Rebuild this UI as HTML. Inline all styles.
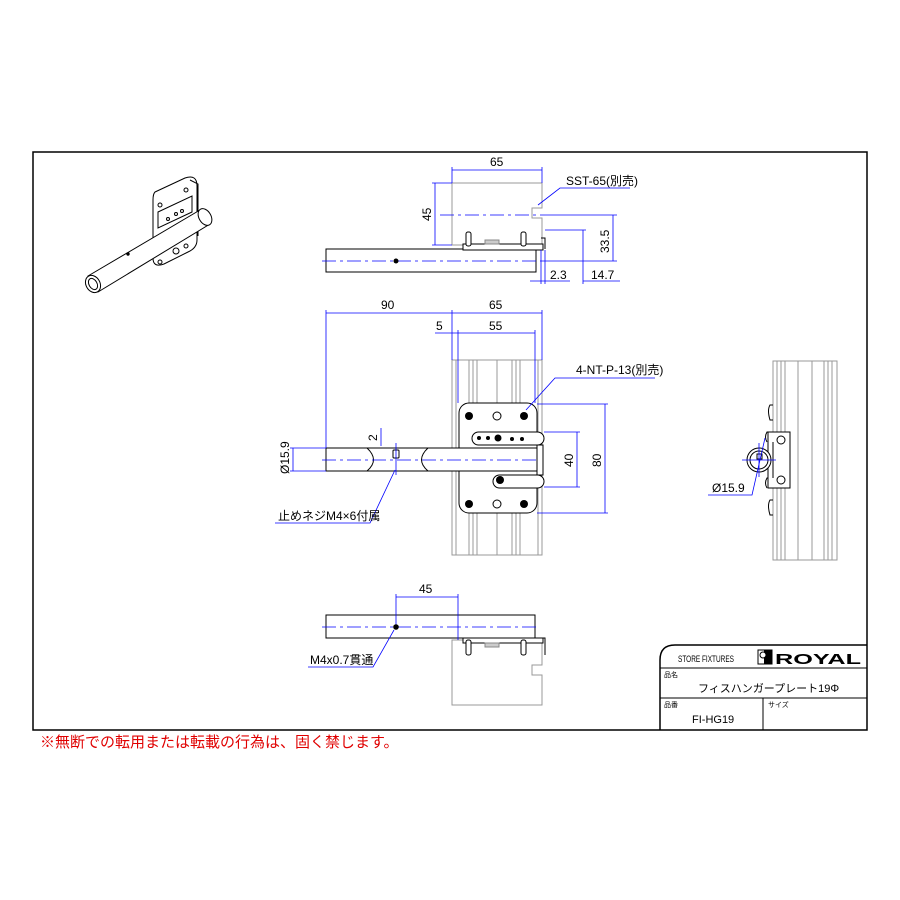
<!DOCTYPE html>
<html><head><meta charset="utf-8"><style>
html,body{margin:0;padding:0;background:#fff;}
svg{display:block;}
text{font-family:"Liberation Sans","Noto Sans CJK JP",sans-serif;}
</style></head><body>
<svg width="900" height="900" viewBox="0 0 900 900" xmlns="http://www.w3.org/2000/svg">
<rect x="0" y="0" width="900" height="900" fill="#fff"/>
<rect x="33" y="152" width="834" height="578" fill="none" stroke="#000" stroke-width="1.5"/>
<path d="M660 730 V660 Q660 645 675 645 H867" fill="none" stroke="#000" stroke-width="1.5"/>
<line x1="660" y1="668" x2="867" y2="668" stroke="#000" stroke-width="1"/>
<line x1="660" y1="698" x2="867" y2="698" stroke="#000" stroke-width="1"/>
<line x1="763" y1="698" x2="763" y2="730" stroke="#000" stroke-width="1"/>
<text x="678" y="662" font-size="9" textLength="56" lengthAdjust="spacingAndGlyphs">STORE FIXTURES</text>
<rect x="758" y="650" width="14" height="14" fill="#fff" stroke="#000"/>
<rect x="764" y="650" width="8" height="14" fill="#000"/>
<circle cx="763" cy="655" r="3" fill="#fff" stroke="#000"/>
<text x="775" y="664" font-size="15" font-weight="bold" textLength="86" lengthAdjust="spacingAndGlyphs">ROYAL</text>
<text x="664" y="677" font-size="7">品名</text>
<text x="698" y="692" font-size="11">フィスハンガープレート19Φ</text>
<text x="664" y="707" font-size="7">品番</text>
<text x="768" y="707" font-size="7">サイズ</text>
<text x="692" y="723" font-size="11">FI-HG19</text>
<text x="40" y="747" font-size="15" fill="#e00000">※無断での転用または転載の行為は、固く禁じます。</text>

<g fill="none" stroke-width="1">
<g stroke="#000">
<path d="M155 192 L185 178 Q197 174 197 186 L197 240 Q197 248 188 252 L164 264 Q153 268 153 258 L153 200 Q153 194 155 192 Z" fill="#fff"/>
<path d="M158 212 L192 196 L192 212 L158 228 Z"/>
<path d="M190 180 L198 184 L198 236"/>
<path d="M88 276 L200 210 L210 224 L98 292 Z" fill="#fff"/>
<ellipse cx="93" cy="284" rx="7" ry="9" transform="rotate(-30 93 284)" fill="#fff"/>
<ellipse cx="93" cy="284" rx="4" ry="6" transform="rotate(-30 93 284)"/>
<ellipse cx="205" cy="217" rx="6" ry="9" transform="rotate(-30 205 217)" fill="#fff"/>
<circle cx="160" cy="205" r="2"/><circle cx="186" cy="190" r="2"/><circle cx="160" cy="262" r="2"/><circle cx="186" cy="246" r="2"/>
<circle cx="168" cy="219" r="1.5"/><circle cx="176" cy="214" r="1.5"/><circle cx="182" cy="211" r="1.5"/>
<circle cx="176" cy="251" r="3"/>
<circle cx="128" cy="254" r="1.2" fill="#000"/>
</g>

<g stroke="#999">
<path d="M452 183 H542 V208 H532 V218 H542 V245 H452 Z"/>
</g>
<g stroke="#000">
<rect x="326" y="249" width="210" height="23" fill="#fff"/>
<rect x="463" y="244" width="80" height="6" fill="#fff"/>
<rect x="466" y="232" width="5" height="14" rx="2" fill="#fff"/>
<rect x="521" y="232" width="5" height="14" rx="2" fill="#fff"/>
<rect x="485" y="240" width="14" height="4" fill="#ccc" stroke="#888"/>
<path d="M541 238 H545 V249"/>
</g>
<g stroke="#0000ff" stroke-width="0.8">
<line x1="322" y1="261" x2="540" y2="261" stroke-dasharray="14 4 3 4"/>
<line x1="440" y1="215" x2="545" y2="215" stroke-dasharray="14 4 3 4"/>
<line x1="452" y1="167" x2="452" y2="183"/><line x1="542" y1="167" x2="542" y2="183"/>
<line x1="452" y1="170" x2="542" y2="170"/>
<line x1="432" y1="183" x2="452" y2="183"/><line x1="432" y1="245" x2="452" y2="245"/>
<line x1="435" y1="183" x2="435" y2="245"/>
<line x1="545" y1="215" x2="617" y2="215"/><line x1="540" y1="261" x2="617" y2="261"/>
<line x1="613" y1="215" x2="613" y2="261"/>
<line x1="545" y1="230" x2="586" y2="230"/><line x1="583" y1="230" x2="583" y2="284"/>
<line x1="583" y1="281" x2="620" y2="281"/>
<line x1="541" y1="250" x2="541" y2="284"/><line x1="545" y1="250" x2="545" y2="284"/>
<line x1="530" y1="281" x2="570" y2="281"/>
<polyline points="538,205 560,188 630,188"/>
</g>
<circle cx="396" cy="261" r="2.5" fill="#000" stroke="none"/>

<g stroke="#999">
<rect x="452" y="360" width="90" height="195"/>
<line x1="456" y1="360" x2="456" y2="555"/>
<line x1="469" y1="360" x2="469" y2="555"/><line x1="473" y1="360" x2="473" y2="555"/><line x1="477" y1="360" x2="477" y2="555"/>
<line x1="497" y1="360" x2="497" y2="555"/>
<line x1="512" y1="360" x2="512" y2="555"/><line x1="516" y1="360" x2="516" y2="555"/><line x1="520" y1="360" x2="520" y2="555"/>
<line x1="538" y1="360" x2="538" y2="555"/>
</g>
<g stroke="#000">
<rect x="459" y="403" width="78" height="110" rx="10" fill="#fff"/>
<rect x="472" y="432" width="72" height="13" rx="6.5" fill="#fff"/>
<rect x="493" y="475" width="51" height="13" rx="6.5" fill="#fff"/>
<rect x="326" y="448" width="211" height="23" fill="#fff"/>
<rect x="537" y="445" width="6" height="30" fill="#fff"/>
<path d="M367 448 Q380 460 367 471 M428 448 Q415 460 428 471"/>
<rect x="393" y="450" width="6" height="8" rx="1"/>
<circle cx="497" cy="416" r="4"/><circle cx="497" cy="504" r="4"/>
</g>
<g fill="#000" stroke="none">
<circle cx="469" cy="416" r="4"/><circle cx="524" cy="416" r="4"/><circle cx="469" cy="504" r="4"/><circle cx="524" cy="504" r="4"/>
<circle cx="500" cy="480" r="4"/><circle cx="498" cy="438" r="3.5"/>
<circle cx="479" cy="438" r="2"/><circle cx="488" cy="438" r="2"/><circle cx="512" cy="439" r="2"/><circle cx="522" cy="439" r="2"/>
</g>
<text x="484" y="410" font-size="4">△取付け上△</text>
<g stroke="#0000ff" stroke-width="0.8">
<line x1="322" y1="460" x2="540" y2="460" stroke-dasharray="14 4 3 4"/>
<line x1="326" y1="310" x2="326" y2="448"/><line x1="452" y1="310" x2="452" y2="360"/><line x1="542" y1="310" x2="542" y2="360"/>
<line x1="326" y1="313" x2="542" y2="313"/>
<line x1="458" y1="330" x2="458" y2="403"/><line x1="535" y1="330" x2="535" y2="403"/>
<line x1="435" y1="333" x2="535" y2="333"/>
<line x1="290" y1="448" x2="326" y2="448"/><line x1="290" y1="471" x2="326" y2="471"/>
<line x1="293" y1="448" x2="293" y2="471"/>
<line x1="381" y1="428" x2="381" y2="446"/>
<line x1="396" y1="443" x2="396" y2="475"/>
<line x1="544" y1="432" x2="580" y2="432"/><line x1="544" y1="487" x2="580" y2="487"/>
<line x1="577" y1="432" x2="577" y2="487"/>
<line x1="537" y1="404" x2="608" y2="404"/><line x1="537" y1="513" x2="608" y2="513"/>
<line x1="605" y1="404" x2="605" y2="513"/>
<polyline points="526,410 555,378 655,378"/>
<polyline points="395,470 370,523 275,523"/>
</g>

<g stroke="#999">
<rect x="773" y="361" width="64" height="199"/>
<line x1="777" y1="361" x2="777" y2="560"/><line x1="781" y1="361" x2="781" y2="560"/><line x1="785" y1="361" x2="785" y2="560"/>
<line x1="798" y1="361" x2="798" y2="560"/><line x1="812" y1="361" x2="812" y2="560"/>
<line x1="824" y1="361" x2="824" y2="560"/><line x1="828" y1="361" x2="828" y2="560"/><line x1="832" y1="361" x2="832" y2="560"/>
</g>
<g stroke="#000">
<rect x="768" y="432" width="22" height="56" fill="#fff"/>
<path d="M773 442 V478"/>
<circle cx="781" cy="440" r="4"/><circle cx="781" cy="480" r="4"/>
<circle cx="759" cy="460" r="12" fill="#fff"/><circle cx="759" cy="460" r="9"/>
<rect x="757" y="454" width="5" height="5"/>
<path d="M773 405 H770 Q767 410 770 420 H773 M768 432 H767 Q764 437 767 442 M768 478 H767 Q764 483 767 488 M773 500 H770 Q767 505 770 515 H773"/>
</g>
<g stroke="#0000ff" stroke-width="0.8">
<line x1="742" y1="460" x2="776" y2="460"/><line x1="759" y1="443" x2="759" y2="477"/>
<polyline points="765,438 752,495 708,495"/>
</g>

<g stroke="#999">
<path d="M452 640 H542 V665 H532 V675 H542 V705 H452 Z"/>
</g>
<g stroke="#000">
<rect x="326" y="615" width="209" height="23" fill="#fff"/>
<rect x="463" y="638" width="80" height="5" fill="#fff"/>
<rect x="466" y="640" width="5" height="15" rx="2" fill="#fff"/>
<rect x="521" y="640" width="5" height="15" rx="2" fill="#fff"/>
<rect x="485" y="643" width="14" height="4" fill="#ccc" stroke="#888"/>
<path d="M541 638 H545 V655"/>
</g>
<g stroke="#0000ff" stroke-width="0.8">
<line x1="322" y1="627" x2="540" y2="627" stroke-dasharray="14 4 3 4"/>
<line x1="396" y1="594" x2="396" y2="627"/><line x1="458" y1="594" x2="458" y2="640"/>
<line x1="396" y1="597" x2="458" y2="597"/>
<polyline points="394,630 373,667 308,667"/>
</g>
<circle cx="396" cy="627" r="2.8" fill="#000" stroke="none"/>
</g>

<g font-size="12" fill="#000">
<text x="490" y="166">65</text>
<text x="566" y="185">SST-65(別売)</text>
<text x="0" y="0" transform="translate(431 221) rotate(-90)">45</text>
<text x="0" y="0" transform="translate(609 253) rotate(-90)">33.5</text>
<text x="550" y="279">2.3</text>
<text x="591" y="279">14.7</text>
<text x="381" y="309">90</text>
<text x="489" y="309">65</text>
<text x="436" y="330">5</text>
<text x="489" y="330">55</text>
<text x="576" y="374">4-NT-P-13(別売)</text>
<text x="0" y="0" transform="translate(289 474) rotate(-90)">Ø15.9</text>
<text x="0" y="0" transform="translate(377 441) rotate(-90)">2</text>
<text x="0" y="0" transform="translate(573 467) rotate(-90)">40</text>
<text x="0" y="0" transform="translate(601 467) rotate(-90)">80</text>
<text x="278" y="520">止めネジM4×6付属</text>
<text x="712" y="492">Ø15.9</text>
<text x="419" y="593">45</text>
<text x="310" y="664">M4x0.7貫通</text>
</g>
</svg>
</body></html>
